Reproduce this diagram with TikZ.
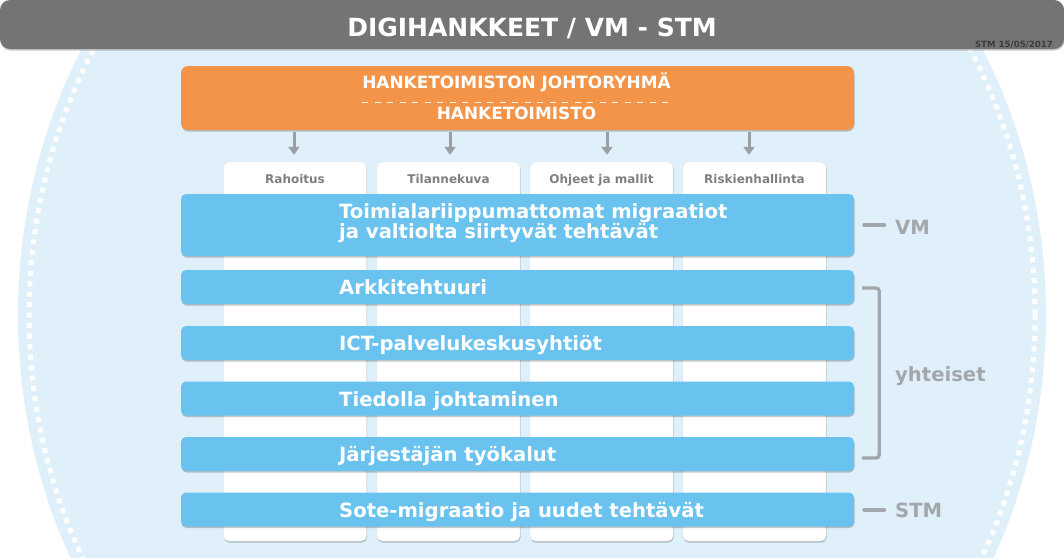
\documentclass[tikz,border=0pt]{standalone}
\usepackage{fontspec}
\setmainfont{DejaVu Sans}
\usetikzlibrary{arrows.meta,positioning,shadows}
\definecolor{headgrey}{HTML}{747474}
\definecolor{bgblue}{HTML}{DFF0FA}
\definecolor{barblue}{HTML}{6AC2EF}
\definecolor{officeorange}{HTML}{F39449}
\definecolor{arrowgrey}{HTML}{9A9FA4}
\definecolor{labelgrey}{HTML}{A3A7AB}
\definecolor{coltextgrey}{HTML}{7F7F7F}
\definecolor{dategrey}{HTML}{3C3C3C}
\newcommand{\bigbold}{\bfseries\fontsize{19.6}{20}\selectfont}
\tikzset{
  softshadow/.style={drop shadow={shadow xshift=0.5pt, shadow yshift=-1.5pt, fill=black, opacity=0.22}},
  bar/.style={fill=barblue, rounded corners=5pt, minimum width=673pt, minimum height=34pt, inner sep=0pt, softshadow},
  bartext/.style={anchor=base west, inner sep=0pt, text=white, font=\bigbold},
  colbox/.style={fill=white, draw=black!12, rounded corners=5pt, minimum width=143pt, minimum height=379pt, inner sep=0pt, softshadow},
  coltext/.style={anchor=base, inner sep=0pt, text=coltextgrey, font=\bfseries\fontsize{12}{12}\selectfont},
  officetext/.style={anchor=base, inner sep=0pt, text=white, font=\bfseries\fontsize{16.9}{17}\selectfont},
  sidelabel/.style={anchor=base west, inner sep=0pt, text=labelgrey, font=\bigbold},
  sideline/.style={draw=labelgrey, line width=4pt, line cap=round},
  feed/.style={draw=arrowgrey, line width=3pt, -{Triangle[width=11pt,length=8pt]}},
}
\begin{document}
\begin{tikzpicture}[x=1pt,y=-1pt]
\useasboundingbox (0,0) rectangle (1064,557);
\begin{scope}
  \clip (0,50) rectangle (1064,557);
  \fill[bgblue] (532,315) ellipse [x radius=514, y radius=552];
  \draw[white, line width=5pt, dash pattern=on 5pt off 5.5pt] (532,315) ellipse [x radius=503, y radius=541];
\end{scope}

\node[fill=headgrey, rounded corners=10pt, minimum width=1064pt, minimum height=49pt, inner sep=0pt, softshadow] (head) at (532,24.5) {};
\node[anchor=base, inner sep=0pt, text=white, font=\bfseries\fontsize{25}{25}\selectfont] (title) at (532,36) {DIGIHANKKEET / VM - STM};
\node[anchor=base east, inner sep=0pt, text=dategrey, font=\bfseries\fontsize{8.6}{9}\selectfont] (date) at (1053,47.5) {STM 15/05/2017};

\node[fill=officeorange, rounded corners=7pt, minimum width=673pt, minimum height=64pt, inner sep=0pt, softshadow] (office) at (517.5,98) {};
\node[officetext] (board) at (516.5,88) {HANKETOIMISTON JOHTORYHMÄ};
\node[officetext] (officename) at (516.5,119) {HANKETOIMISTO};
\draw[white, line width=1.3pt, dash pattern=on 6pt off 6.5pt] ([yshift=-11]board.south west) -- ([yshift=-11]board.south east);

\foreach \i/\x/\name in {1/295/Rahoitus, 2/448.5/Tilannekuva, 3/601.5/Ohjeet ja mallit, 4/754.5/Riskienhallinta}{
  \node[colbox] (col\i) at (\x,351.5) {};
  \node[coltext] (colhead\i) at (\x,183) {\name};
}
\foreach \i/\dx in {1/-1, 2/1.5, 3/5.5, 4/-5.5}{
  \path (col\i.north |- office.south) ++(\dx,2) coordinate (feedtop\i);
  \draw[feed] (feedtop\i) -- ([xshift=\dx,yshift=7]col\i.north);
}

\node[bar, minimum height=62pt] (bar1) at (517.5,225) {};
\node[bar] (bar2) at (517.5,287) {};
\node[bar] (bar3) at (517.5,343) {};
\node[bar] (bar4) at (517.5,398.5) {};
\node[bar] (bar5) at (517.5,454) {};
\node[bar] (bar6) at (517.5,509.5) {};

\node[bartext, anchor=west, align=left] (task1) at (339,223) {Toimialariippumattomat migraatiot\\ja valtiolta siirtyvät tehtävät};
\node[bartext] (task2) at (339,294) {Arkkitehtuuri};
\node[bartext] (task3) at (339,350) {ICT-palvelukeskusyhtiöt};
\node[bartext] (task4) at (339,406) {Tiedolla johtaminen};
\node[bartext] (task5) at (339,461) {Järjestäjän työkalut};
\node[bartext] (task6) at (339,517) {Sote-migraatio ja uudet tehtävät};

\node[sidelabel] (vm) at (895,234) {VM};
\node[sidelabel] (shared) at (895,381) {yhteiset};
\node[sidelabel] (stm) at (895,517) {STM};
\draw[sideline, shorten <=10pt] (bar1.east) -- ++(30,0);
\draw[sideline, shorten <=10pt] (bar6.east) -- ++(30,0);
\draw[draw=labelgrey, line width=3.3pt, rounded corners=3pt] ([xshift=8,yshift=-1]bar2.east) -- ++(17,0) -- ([xshift=25,yshift=-4]bar5.east) -- ([xshift=8,yshift=-4]bar5.east);
\end{tikzpicture}
\end{document}
